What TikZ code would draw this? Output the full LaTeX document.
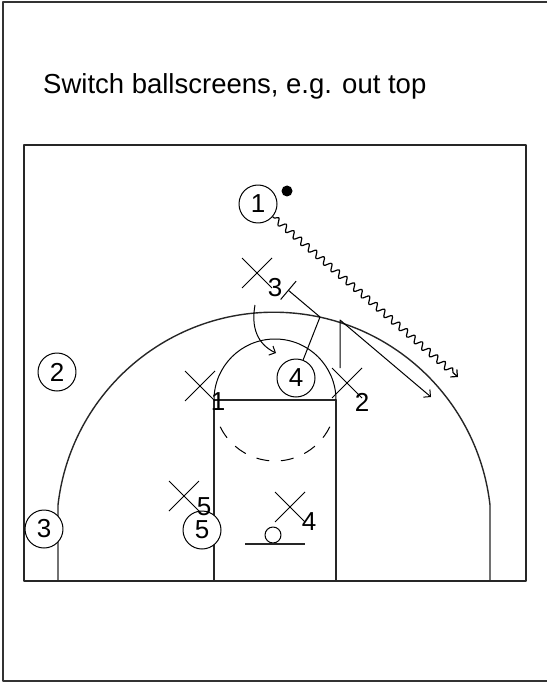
\documentclass[tikz,border=0pt]{standalone}
\usepackage{fontspec}
\setmainfont{Liberation Sans}
\usetikzlibrary{arrows.meta,decorations.pathmorphing,shapes.misc}
\begin{document}
\begin{tikzpicture}[x=1pt,y=-1pt, line join=round,
  frame/.style={line width=1.6pt, draw=black!80},
  court/.style={line width=1.4pt, draw=black!85},
  thinline/.style={line width=1pt},
  player/.style={circle, draw, fill=white, line width=1pt, minimum size=38pt, inner sep=0pt, font=\fontsize{26}{26}\selectfont},
  defender/.style={cross out, draw, line width=1pt, minimum size=30pt, inner sep=0pt, outer sep=0pt},
  dlabel/.style={inner sep=0pt, font=\fontsize{26}{26}\selectfont},
  move/.style={line width=1pt, -{Straight Barb[length=5pt,width=10pt]}},
  dribble/.style={line width=1.2pt, -{Straight Barb[length=5pt,width=10pt]}, decorate,
     decoration={snake, amplitude=3.3pt, segment length=10pt, pre length=2pt, post length=6pt}},
  screen/.style={line width=1pt, -{Bar[width=24pt]}}
]
\useasboundingbox (0,0) rectangle (547,684);
% outer frame
\draw[frame] (547,2) -- (3,2) -- (3,681) -- (547,681);
% title
\node[anchor=base west, inner sep=0pt, font=\fontsize{27.5}{30}\selectfont] (title) at (43,94) {Switch ballscreens, e.g. out top};
% court
\draw[court] (24,145) rectangle (526,581);
\draw[court] (58,581) -- (58,505) arc[start angle=-173.5, end angle=-6.5, radius=217.4] -- (490,581);
\draw[court] (214,581) -- (214,400) -- (336,400) -- (336,581);
\draw[thinline] (214,400) arc[start angle=180, end angle=360, radius=61];
\draw[thinline, dash pattern=on 13pt off 11.66pt] (275,400) ++(154:61) arc[start angle=154, end angle=26, radius=61];
\draw[thinline] (273,535) circle[radius=8];
\draw[court] (245,544) -- (305,544);
% defenders
\node[defender] (d3) at (257,273) {};
\node[defender] (d1) at (200,386) {};
\node[defender] (d2) at (347,383) {};
\node[defender] (d5) at (184,496) {};
\node[defender] (d4) at (290,507) {};
% players
\node[player] (p1) at (258,204) {1};
\node[player] (p2) at (57,372) {2};
\node[player] (p3) at (44,529) {3};
\node[player] (p4) at (296,378) {4};
\node[player] (p5) at (202,530) {5};
% defender labels
\node[dlabel] (l3) at (275,288) {3};
\node[dlabel] (l1) at (218,402) {1};
\node[dlabel] (l2) at (362,402) {2};
\node[dlabel] (l5) at (204,507) {5};
\node[dlabel] (l4) at (309,522) {4};
% ball
\node[circle, fill, minimum size=11pt, inner sep=0pt] (ball) at (287,191) {};
% movement coordinates
\coordinate (drib) at (458,377);
\coordinate (s1) at (320,317);
\coordinate (s2) at (288,290);
\coordinate (c2s) at ([xshift=-7pt]d2.north);
\coordinate (c2c) at (340,320);
\coordinate (c2e) at (431,397);
\coordinate (c3s) at (255,305);
\coordinate (c3e) at (276,353);
% connectors
\draw[dribble] (p1) -- (drib);
\draw[screen] (p4) -- (s1) -- (s2);
\draw[move] (c2s) -- (c2c) -- (c2e);
\draw[move] (c3s) .. controls (251,327) and (257,344) .. (c3e);
\end{tikzpicture}
\end{document}
